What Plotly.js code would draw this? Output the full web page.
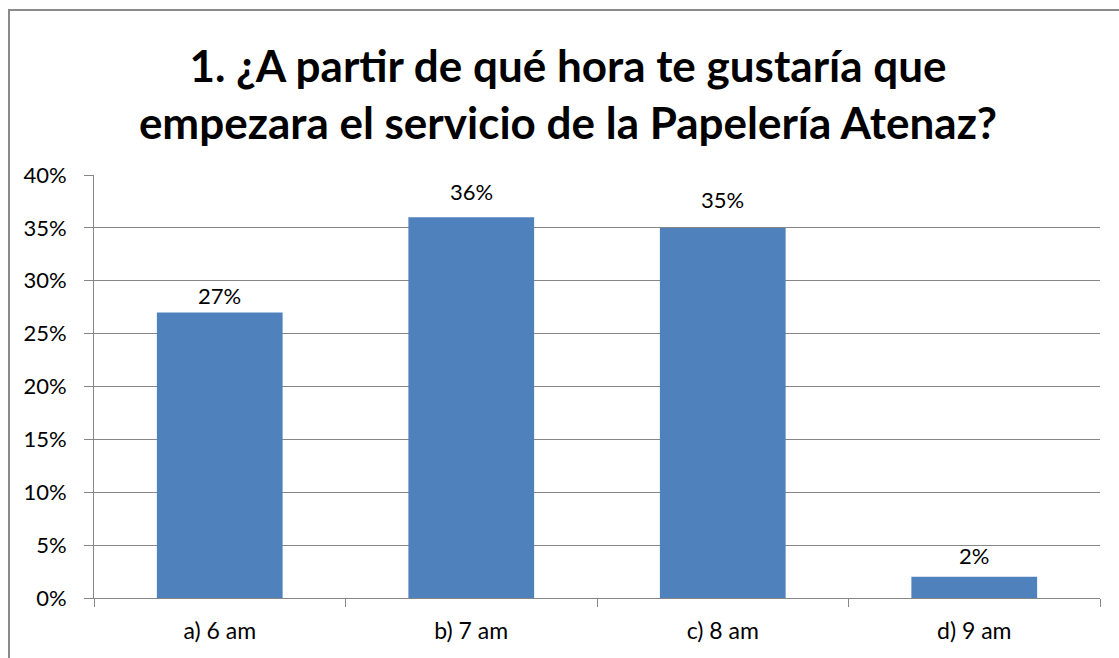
<!DOCTYPE html>
<html>
<head>
<meta charset="utf-8">
<script src="https://cdn.plot.ly/plotly-3.0.1.min.js"></script>
<style>
html,body{margin:0;padding:0;overflow:hidden;background:#fff;}
#chart{width:1119px;height:658px;position:absolute;left:0;top:0;}
#frame{position:absolute;left:8px;top:9px;width:1200px;height:800px;border-left:2px solid #8a8a8a;border-top:2px solid #8a8a8a;pointer-events:none;}
</style>
</head>
<body>
<div id="chart"></div>
<div id="frame"></div>
<script>
const categories = ["a) 6 am", "b) 7 am", "c) 8 am", "d) 9 am"];
const values = [0.27, 0.36, 0.35, 0.02];
const valueLabels = ["27%", "36%", "35%", "2%"];
const titleText = "1. ¿A partir de qué hora te gustaría que<br>empezara el servicio de la Papelería Atenaz?";

// label offsets (pixels above bar top), style only
const labelShift = [1, 10, 13, 6];

const FONT = "Lato, 'Open Sans', sans-serif";

const trace = {
  type: "bar",
  x: categories,
  y: values,
  marker: {color: "#4f81bd"},
  hoverinfo: "skip"
};

const annotations = categories.map((c, i) => ({
  x: c,
  y: values[i],
  xref: "x",
  yref: "y",
  text: valueLabels[i],
  showarrow: false,
  yanchor: "bottom",
  yshift: labelShift[i],
  font: {family: FONT, size: 22, color: "#000"}
}));

const layout = {
  width: 1119,
  height: 658,
  margin: {l: 94, r: 19, t: 175, b: 60},
  paper_bgcolor: "#fff",
  plot_bgcolor: "#fff",
  bargap: 0.5,
  showlegend: false,
  annotations: annotations,
  title: {
    text: titleText,
    font: {family: FONT, size: 44, color: "#000", weight: "bold", lineposition: "none"},
    x: 568 / 1119,
    xanchor: "center",
    xref: "container",
    y: 1 - 82 / 658,
    yanchor: "middle",
    yref: "container"
  },
  xaxis: {
    type: "category",
    tickson: "boundaries",
    ticks: "outside",
    ticklen: 8,
    tickcolor: "#868686",
    showline: true,
    linecolor: "#868686",
    linewidth: 1,
    showgrid: false,
    ticklabelstandoff: 12,
    tickfont: {family: FONT, size: 23, color: "#000"}
  },
  yaxis: {
    range: [0, 0.4],
    dtick: 0.05,
    tickformat: ".0%",
    ticks: "outside",
    ticklen: 9,
    tickcolor: "#868686",
    showline: true,
    linecolor: "#868686",
    linewidth: 1,
    showgrid: true,
    gridcolor: "#868686",
    gridwidth: 1,
    zeroline: false,
    ticklabelstandoff: 13,
    tickfont: {family: FONT, size: 22, color: "#000"}
  }
};

Plotly.newPlot("chart", [trace], layout, {displayModeBar: false, staticPlot: true});
</script>
</body>
</html>
